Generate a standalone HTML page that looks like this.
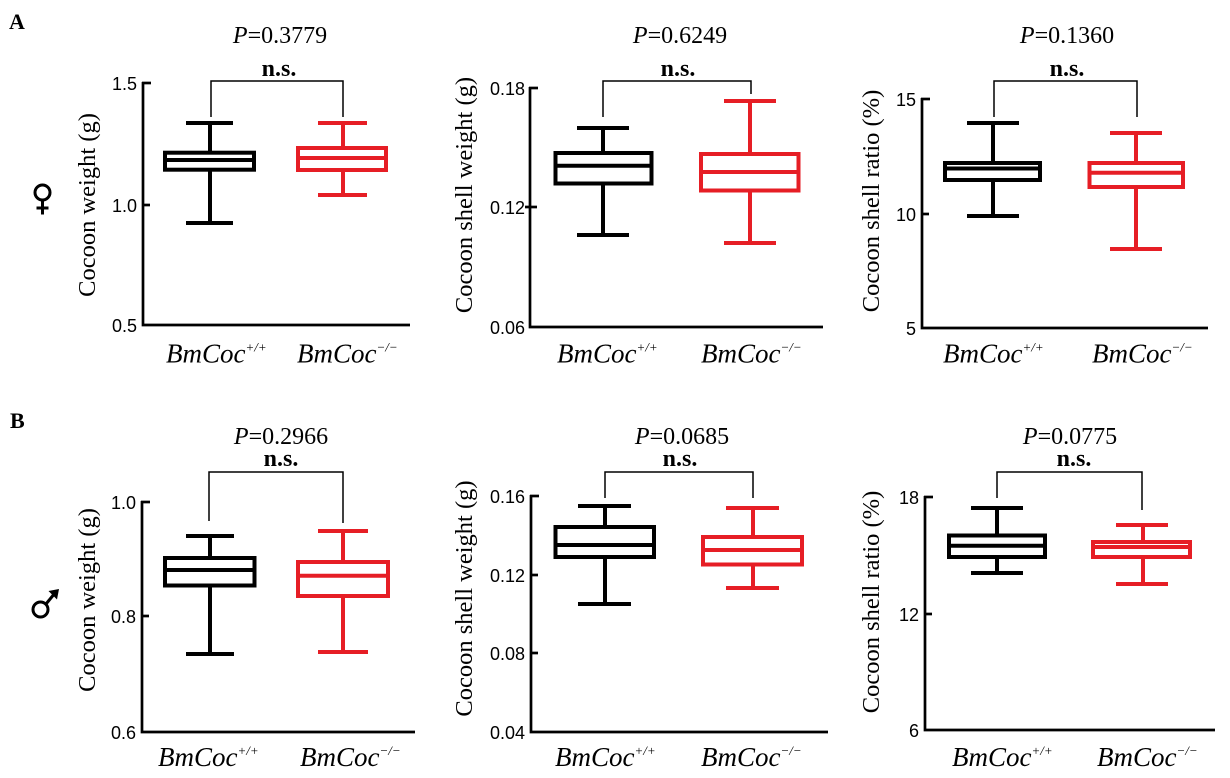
<!DOCTYPE html>
<html>
<head>
<meta charset="utf-8">
<style>
html,body{margin:0;padding:0;background:#fff;}
svg{display:block;}
.tk{font-family:"Liberation Sans",Arial,sans-serif;font-size:18px;fill:#000;}
.yl{font-family:"Liberation Serif","Times New Roman",serif;font-size:24.5px;fill:#000;}
.pv{font-family:"Liberation Serif","Times New Roman",serif;font-size:24px;fill:#000;}
.ns{font-family:"Liberation Serif","Times New Roman",serif;font-size:24px;font-weight:bold;fill:#000;}
.xl{font-family:"Liberation Serif","Times New Roman",serif;font-size:27px;font-style:italic;fill:#000;}
.pl{font-family:"Liberation Serif","Times New Roman",serif;font-size:22px;font-weight:bold;fill:#000;}
.ax{stroke:#000;stroke-width:2.7;fill:none;}
.br{stroke:#000;stroke-width:1.5;fill:none;}
.bk{stroke:#000;stroke-width:4;fill:none;}
.rd{stroke:#e61e25;stroke-width:4;fill:none;}
</style>
</head>
<body>
<svg width="1230" height="778" viewBox="0 0 1230 778" xmlns="http://www.w3.org/2000/svg">
<rect width="1230" height="778" fill="#fff"/>

<!-- Panel letters -->
<text class="pl" x="9" y="29">A</text>
<text class="pl" x="10" y="428">B</text>

<!-- Female symbol -->
<g stroke="#000" stroke-width="3" fill="none">
  <circle cx="42.5" cy="192.5" r="7.5"/>
  <line x1="42.5" y1="200" x2="42.5" y2="214.5"/>
  <line x1="36.5" y1="208" x2="48.5" y2="208"/>
</g>
<!-- Male symbol -->
<g stroke="#000" stroke-width="3" fill="none">
  <circle cx="40.5" cy="609.5" r="7.5"/>
  <line x1="46" y1="604" x2="55" y2="593"/>
</g>
<polygon points="59,589 48.5,591 57,599.5" fill="#000"/>

<!-- ================= A1 ================= -->
<g>
  <text class="pv" x="280" y="43" text-anchor="middle"><tspan font-style="italic">P</tspan>=0.3779</text>
  <text class="ns" x="279" y="76" text-anchor="middle">n.s.</text>
  <polyline class="br" points="211,117 211,81 343,81 343,117"/>
  <polyline class="ax" points="143,82 143,325 410,325"/>
  <line class="ax" x1="142" y1="83" x2="151" y2="83"/>
  <line class="ax" x1="142" y1="205" x2="150" y2="205"/>
  <text class="tk" x="137" y="90" text-anchor="end">1.5</text>
  <text class="tk" x="137" y="212" text-anchor="end">1.0</text>
  <text class="tk" x="137" y="332" text-anchor="end">0.5</text>
  <text class="yl" transform="translate(95,205) rotate(-90)" text-anchor="middle">Cocoon weight (g)</text>
  <!-- black -->
  <line class="bk" x1="186" y1="123" x2="233" y2="123"/>
  <line class="bk" x1="210" y1="123" x2="210" y2="152.7"/>
  <rect class="bk" x="165" y="152.7" width="89" height="17"/>
  <line class="bk" x1="165" y1="160" x2="254" y2="160"/>
  <line class="bk" x1="210" y1="169.7" x2="210" y2="223"/>
  <line class="bk" x1="186" y1="223" x2="233" y2="223"/>
  <!-- red -->
  <line class="rd" x1="318" y1="123" x2="367" y2="123"/>
  <line class="rd" x1="343" y1="123" x2="343" y2="148"/>
  <rect class="rd" x="298" y="148" width="88" height="22"/>
  <line class="rd" x1="298" y1="158" x2="386" y2="158"/>
  <line class="rd" x1="343" y1="170" x2="343" y2="195"/>
  <line class="rd" x1="318" y1="195" x2="367" y2="195"/>
  <text class="xl" x="166" y="362.5">BmCoc<tspan font-size="13" dy="-11">+/+</tspan></text>
  <text class="xl" x="297" y="362.5">BmCoc<tspan font-size="13" dy="-11">−/−</tspan></text>
</g>

<!-- ================= A2 ================= -->
<g>
  <text class="pv" x="680" y="43" text-anchor="middle"><tspan font-style="italic">P</tspan>=0.6249</text>
  <text class="ns" x="678" y="76" text-anchor="middle">n.s.</text>
  <polyline class="br" points="603,117 603,81 751,81 751,94"/>
  <polyline class="ax" points="530,87 530,327 823,327"/>
  <line class="ax" x1="529" y1="88" x2="538" y2="88"/>
  <line class="ax" x1="525" y1="207" x2="537" y2="207"/>
  <text class="tk" x="525" y="95" text-anchor="end">0.18</text>
  <text class="tk" x="525" y="214" text-anchor="end">0.12</text>
  <text class="tk" x="525" y="334" text-anchor="end">0.06</text>
  <text class="yl" transform="translate(472,195) rotate(-90)" text-anchor="middle">Cocoon shell weight (g)</text>
  <!-- black -->
  <line class="bk" x1="577" y1="128" x2="629" y2="128"/>
  <line class="bk" x1="603" y1="128" x2="603" y2="153"/>
  <rect class="bk" x="555.5" y="153" width="96" height="30.5"/>
  <line class="bk" x1="555.5" y1="165.7" x2="651.5" y2="165.7"/>
  <line class="bk" x1="603" y1="183.5" x2="603" y2="235"/>
  <line class="bk" x1="577" y1="235" x2="629" y2="235"/>
  <!-- red -->
  <line class="rd" x1="724" y1="101" x2="776" y2="101"/>
  <line class="rd" x1="750" y1="101" x2="750" y2="154"/>
  <rect class="rd" x="701" y="154" width="97.5" height="36.5"/>
  <line class="rd" x1="701" y1="172" x2="798.5" y2="172"/>
  <line class="rd" x1="750" y1="190.5" x2="750" y2="243"/>
  <line class="rd" x1="724" y1="243" x2="776" y2="243"/>
  <text class="xl" x="557" y="362.5">BmCoc<tspan font-size="13" dy="-11">+/+</tspan></text>
  <text class="xl" x="701" y="362.5">BmCoc<tspan font-size="13" dy="-11">−/−</tspan></text>
</g>

<!-- ================= A3 ================= -->
<g>
  <text class="pv" x="1067" y="43" text-anchor="middle"><tspan font-style="italic">P</tspan>=0.1360</text>
  <text class="ns" x="1067" y="76" text-anchor="middle">n.s.</text>
  <polyline class="br" points="994,117 994,81 1137,81 1137,117"/>
  <polyline class="ax" points="922,98 922,328 1208,328"/>
  <line class="ax" x1="921" y1="99" x2="930" y2="99"/>
  <line class="ax" x1="921" y1="214" x2="929" y2="214"/>
  <text class="tk" x="916" y="106" text-anchor="end">15</text>
  <text class="tk" x="916" y="221" text-anchor="end">10</text>
  <text class="tk" x="916" y="335" text-anchor="end">5</text>
  <text class="yl" transform="translate(879,201) rotate(-90)" text-anchor="middle">Cocoon shell ratio (%)</text>
  <!-- black -->
  <line class="bk" x1="967" y1="123" x2="1019" y2="123"/>
  <line class="bk" x1="993" y1="123" x2="993" y2="163"/>
  <rect class="bk" x="945" y="163" width="95" height="17"/>
  <line class="bk" x1="945" y1="168.5" x2="1040" y2="168.5"/>
  <line class="bk" x1="993" y1="180" x2="993" y2="216"/>
  <line class="bk" x1="967" y1="216" x2="1019" y2="216"/>
  <!-- red -->
  <line class="rd" x1="1110" y1="133" x2="1162" y2="133"/>
  <line class="rd" x1="1136" y1="133" x2="1136" y2="163"/>
  <rect class="rd" x="1089.5" y="163" width="93.5" height="24"/>
  <line class="rd" x1="1089.5" y1="172.7" x2="1183" y2="172.7"/>
  <line class="rd" x1="1136" y1="187" x2="1136" y2="249"/>
  <line class="rd" x1="1110" y1="249" x2="1162" y2="249"/>
  <text class="xl" x="943" y="362.5">BmCoc<tspan font-size="13" dy="-11">+/+</tspan></text>
  <text class="xl" x="1092" y="362.5">BmCoc<tspan font-size="13" dy="-11">−/−</tspan></text>
</g>

<!-- ================= B1 ================= -->
<g>
  <text class="pv" x="281" y="444" text-anchor="middle"><tspan font-style="italic">P</tspan>=0.2966</text>
  <text class="ns" x="281" y="466" text-anchor="middle">n.s.</text>
  <polyline class="br" points="209,521 209,472 343,472 343,523"/>
  <polyline class="ax" points="142,501 142,732 415,732"/>
  <line class="ax" x1="141" y1="502" x2="150" y2="502"/>
  <line class="ax" x1="141" y1="616" x2="149" y2="616"/>
  <text class="tk" x="136" y="509" text-anchor="end">1.0</text>
  <text class="tk" x="136" y="623" text-anchor="end">0.8</text>
  <text class="tk" x="136" y="739" text-anchor="end">0.6</text>
  <text class="yl" transform="translate(95,600) rotate(-90)" text-anchor="middle">Cocoon weight (g)</text>
  <!-- black -->
  <line class="bk" x1="186" y1="536" x2="234" y2="536"/>
  <line class="bk" x1="210" y1="536" x2="210" y2="558"/>
  <rect class="bk" x="165" y="558" width="89.5" height="27.5"/>
  <line class="bk" x1="165" y1="570" x2="254.5" y2="570"/>
  <line class="bk" x1="210" y1="585.5" x2="210" y2="654"/>
  <line class="bk" x1="186" y1="654" x2="234" y2="654"/>
  <!-- red -->
  <line class="rd" x1="318" y1="531" x2="368" y2="531"/>
  <line class="rd" x1="343" y1="531" x2="343" y2="562"/>
  <rect class="rd" x="298" y="562" width="90" height="34"/>
  <line class="rd" x1="298" y1="575.7" x2="388" y2="575.7"/>
  <line class="rd" x1="343" y1="596" x2="343" y2="652"/>
  <line class="rd" x1="318" y1="652" x2="368" y2="652"/>
  <text class="xl" x="158" y="766">BmCoc<tspan font-size="13" dy="-11">+/+</tspan></text>
  <text class="xl" x="300" y="766">BmCoc<tspan font-size="13" dy="-11">−/−</tspan></text>
</g>

<!-- ================= B2 ================= -->
<g>
  <text class="pv" x="682" y="444" text-anchor="middle"><tspan font-style="italic">P</tspan>=0.0685</text>
  <text class="ns" x="680" y="466" text-anchor="middle">n.s.</text>
  <polyline class="br" points="605,498 605,472 753,472 753,498"/>
  <polyline class="ax" points="531,495 531,732 828,732"/>
  <line class="ax" x1="530" y1="496" x2="539" y2="496"/>
  <line class="ax" x1="530" y1="575" x2="538" y2="575"/>
  <line class="ax" x1="530" y1="653" x2="538" y2="653"/>
  <text class="tk" x="525" y="503" text-anchor="end">0.16</text>
  <text class="tk" x="525" y="582" text-anchor="end">0.12</text>
  <text class="tk" x="525" y="660" text-anchor="end">0.08</text>
  <text class="tk" x="525" y="739" text-anchor="end">0.04</text>
  <text class="yl" transform="translate(472,598.5) rotate(-90)" text-anchor="middle">Cocoon shell weight (g)</text>
  <!-- black -->
  <line class="bk" x1="578" y1="506" x2="631" y2="506"/>
  <line class="bk" x1="605" y1="506" x2="605" y2="527"/>
  <rect class="bk" x="555.5" y="527" width="98.5" height="30"/>
  <line class="bk" x1="555.5" y1="545" x2="654" y2="545"/>
  <line class="bk" x1="605" y1="557" x2="605" y2="604"/>
  <line class="bk" x1="578" y1="604" x2="631" y2="604"/>
  <!-- red -->
  <line class="rd" x1="726" y1="508" x2="779" y2="508"/>
  <line class="rd" x1="753" y1="508" x2="753" y2="537"/>
  <rect class="rd" x="703" y="537" width="99" height="27.5"/>
  <line class="rd" x1="703" y1="550" x2="802" y2="550"/>
  <line class="rd" x1="753" y1="564.5" x2="753" y2="588"/>
  <line class="rd" x1="726" y1="588" x2="779" y2="588"/>
  <text class="xl" x="555" y="766">BmCoc<tspan font-size="13" dy="-11">+/+</tspan></text>
  <text class="xl" x="701" y="766">BmCoc<tspan font-size="13" dy="-11">−/−</tspan></text>
</g>

<!-- ================= B3 ================= -->
<g>
  <text class="pv" x="1070" y="444" text-anchor="middle"><tspan font-style="italic">P</tspan>=0.0775</text>
  <text class="ns" x="1074" y="466" text-anchor="middle">n.s.</text>
  <polyline class="br" points="997,498 997,472 1142,472 1142,510"/>
  <polyline class="ax" points="925,496 925,730 1215,730"/>
  <line class="ax" x1="924" y1="497" x2="933" y2="497"/>
  <line class="ax" x1="924" y1="614" x2="932" y2="614"/>
  <text class="tk" x="919" y="504" text-anchor="end">18</text>
  <text class="tk" x="919" y="621" text-anchor="end">12</text>
  <text class="tk" x="919" y="737" text-anchor="end">6</text>
  <text class="yl" transform="translate(879,602) rotate(-90)" text-anchor="middle">Cocoon shell ratio (%)</text>
  <!-- black -->
  <line class="bk" x1="971" y1="508" x2="1023" y2="508"/>
  <line class="bk" x1="997" y1="508" x2="997" y2="535.5"/>
  <rect class="bk" x="949" y="535.5" width="96" height="21.5"/>
  <line class="bk" x1="949" y1="545.7" x2="1045" y2="545.7"/>
  <line class="bk" x1="997" y1="557" x2="997" y2="573"/>
  <line class="bk" x1="971" y1="573" x2="1023" y2="573"/>
  <!-- red -->
  <line class="rd" x1="1116" y1="525" x2="1168" y2="525"/>
  <line class="rd" x1="1143" y1="525" x2="1143" y2="542"/>
  <rect class="rd" x="1093" y="542" width="97" height="15"/>
  <line class="rd" x1="1093" y1="547" x2="1190" y2="547"/>
  <line class="rd" x1="1143" y1="557" x2="1143" y2="584"/>
  <line class="rd" x1="1116" y1="584" x2="1168" y2="584"/>
  <text class="xl" x="952" y="766">BmCoc<tspan font-size="13" dy="-11">+/+</tspan></text>
  <text class="xl" x="1097" y="766">BmCoc<tspan font-size="13" dy="-11">−/−</tspan></text>
</g>
</svg>
</body>
</html>
